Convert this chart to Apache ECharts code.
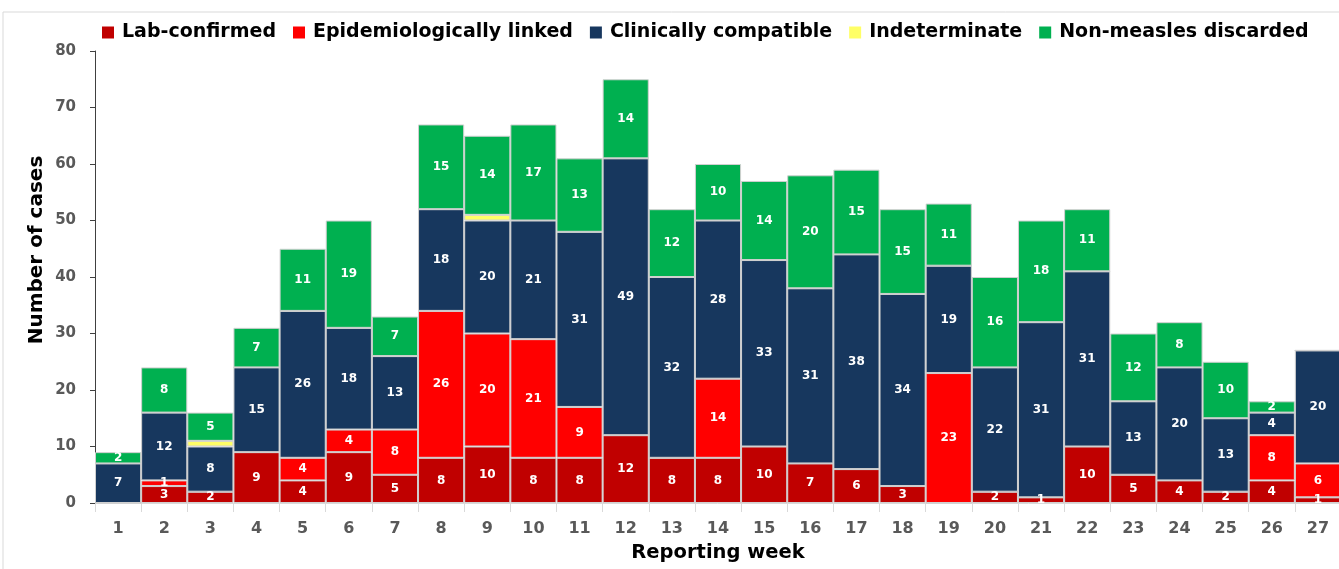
<!DOCTYPE html>
<html>
<head>
<meta charset="utf-8">
<script src="https://cdn.jsdelivr.net/npm/echarts@6/dist/echarts.min.js"></script>
<style>html,body{margin:0;padding:0;background:#fff}#c{width:1339px;height:569px}</style>
</head>
<body>
<div id="c"></div>
<script>
const weeks = ['1','2','3','4','5','6','7','8','9','10','11','12','13','14','15','16','17','18','19','20','21','22','23','24','25','26','27'];
const labConfirmed = [0,3,2,9,4,9,5,8,10,8,8,12,8,8,10,7,6,3,0,2,1,10,5,4,2,4,1];
const epiLinked    = [0,1,0,0,4,4,8,26,20,21,9,0,0,14,0,0,0,0,23,0,0,0,0,0,0,8,6];
const clinical     = [7,12,8,15,26,18,13,18,20,21,31,49,32,28,33,31,38,34,19,22,31,31,13,20,13,4,20];
const indeterminate= [0,0,1,0,0,0,0,0,1,0,0,0,0,0,0,0,0,0,0,0,0,0,0,0,0,0,0];
const nonMeasles   = [2,8,5,7,11,19,7,15,14,17,13,14,12,10,14,20,15,15,11,16,18,11,12,8,10,2,0];

const chart = echarts.init(document.getElementById('c'));
function mk(name, data, color, showLabel) {
  return {
    name, type: 'bar', stack: 'all', data, barCategoryGap: '0%',
    itemStyle: { color, borderColor: '#d0d0d0', borderWidth: 1 },
    label: {
      show: showLabel, position: 'inside', color: '#fff', fontSize: 12, fontWeight: 'bold',
      fontFamily: 'DejaVu Sans',
      formatter: p => p.value > 0 ? String(p.value) : ''
    },
    emphasis: { disabled: true }
  };
}
chart.setOption({
  animation: false,
  graphic: [
    { type: 'rect', shape: { x: 3, y: 12, width: 1345, height: 600 }, style: { fill: 'none', stroke: '#d9d9d9', lineWidth: 1 } },
    { type: 'text', x: 37, y: 250, rotation: Math.PI / 2,
      style: { text: 'Number of cases', fontSize: 20, fontWeight: 'bold', fill: '#000', fontFamily: 'DejaVu Sans', align: 'center', verticalAlign: 'middle' } }
  ],
  legend: {
    top: 18, left: 97, itemWidth: 12, itemHeight: 12, itemGap: 17,
    icon: 'rect',
    itemStyle: { borderWidth: 0 },
    textStyle: { fontSize: 19, fontWeight: 'bold', color: '#000', fontFamily: 'DejaVu Sans', padding: [0, 0, 0, 3] },
    data: ['Lab-confirmed','Epidemiologically linked','Clinically compatible','Indeterminate','Non-measles discarded']
  },
  grid: { left: 95, right: -2, top: 51, bottom: 66, containLabel: false, outerBoundsMode: 'none' },
  xAxis: {
    type: 'category', data: weeks,
    name: 'Reporting week', nameLocation: 'middle', nameGap: 40,
    nameTextStyle: { fontSize: 19.5, fontWeight: 'bold', color: '#000', fontFamily: 'DejaVu Sans' },
    axisLine: { lineStyle: { color: '#d9d9d9' } },
    axisTick: { show: true, length: 9, lineStyle: { color: '#d9d9d9' } },
    axisLabel: { fontSize: 16, fontWeight: 'bold', color: '#595959', margin: 18, fontFamily: 'DejaVu Sans' }
  },
  yAxis: {
    type: 'value', min: 0, max: 80, interval: 10,
    axisLine: { show: true, lineStyle: { color: '#404040' } },
    axisTick: { show: true, length: 5, lineStyle: { color: '#404040' } },
    splitLine: { show: false },
    axisLabel: { fontSize: 15, fontWeight: 'bold', color: '#595959', margin: 19, fontFamily: 'DejaVu Sans' }
  },
  series: [
    mk('Lab-confirmed', labConfirmed, '#C00000', true),
    mk('Epidemiologically linked', epiLinked, '#FF0000', true),
    mk('Clinically compatible', clinical, '#17375E', true),
    mk('Indeterminate', indeterminate, '#FFFF66', false),
    mk('Non-measles discarded', nonMeasles, '#00B050', true)
  ]
});
</script>
</body>
</html>
